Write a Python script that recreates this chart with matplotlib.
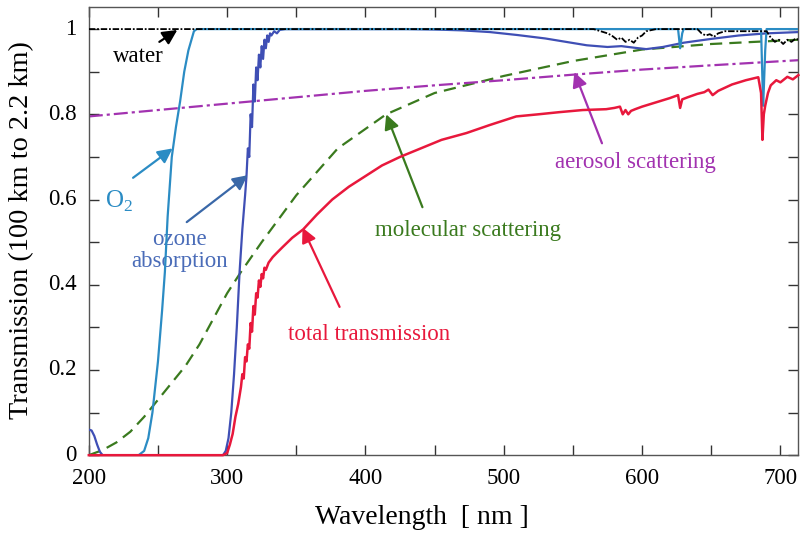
import numpy as np
import matplotlib
matplotlib.use('Agg')
import matplotlib.pyplot as plt
from matplotlib.ticker import MultipleLocator

plt.rcParams.update({
    'font.family': 'Liberation Serif',
    'mathtext.fontset': 'custom',
    'mathtext.rm': 'Liberation Serif',
    'font.size': 14,
})

# ---- data (wavelength nm, transmission) ----
aer_wl = [200, 250, 300, 350, 400, 450, 500, 550, 600, 650, 713]
aer_t = [0.795, 0.81, 0.825, 0.84, 0.855, 0.868, 0.88, 0.893, 0.905, 0.915, 0.927]

mol_wl = [200, 210, 220, 230, 240, 250, 260, 270, 280, 290, 300, 310, 325, 350,
          380, 415, 450, 500, 550, 600, 650, 713]
mol_t = [0.0, 0.012, 0.03, 0.055, 0.09, 0.13, 0.17, 0.21, 0.26, 0.32, 0.38, 0.43,
         0.5, 0.61, 0.72, 0.80, 0.85, 0.89, 0.925, 0.952, 0.965, 0.975]

o2_wl = [200, 236, 240, 243, 246, 250, 253, 255, 257, 260, 263, 266, 269, 272,
         276, 278, 626, 627.5, 629, 630, 686, 687, 687.5, 688, 689, 690, 713]
o2_t = [0, 0, 0.01, 0.04, 0.1, 0.22, 0.34, 0.43, 0.56, 0.70, 0.77, 0.83, 0.9,
        0.95, 0.995, 1.0, 1.0, 0.955, 0.99, 1.0, 1.0, 0.88, 0.82, 0.86, 0.95, 1.0, 1.0]

oz_wl = [200, 202, 204, 206, 208, 210, 295, 297, 299, 301, 303, 305, 307, 309,
         311, 313, 314, 315, 316, 317, 318, 319, 320, 321, 322, 323, 324, 325,
         326, 327, 328, 329, 330, 331, 332, 334, 336, 338, 342, 350, 430, 450,
         470, 490, 510, 530, 545, 560, 575, 585, 595, 603, 615, 630, 650, 670,
         690, 713]
oz_t = [0.06, 0.058, 0.045, 0.025, 0.008, 0.0, 0.0, 0.0, 0.01, 0.04, 0.1, 0.19,
        0.3, 0.43, 0.53, 0.61, 0.655, 0.72, 0.70, 0.80, 0.77, 0.87, 0.83, 0.91,
        0.88, 0.94, 0.91, 0.96, 0.93, 0.975, 0.955, 0.985, 0.97, 0.99, 0.985,
        0.995, 0.99, 0.998, 1.0, 1.0, 1.0, 0.999, 0.997, 0.993, 0.986, 0.978,
        0.970, 0.962, 0.958, 0.960, 0.956, 0.953, 0.958, 0.968, 0.977, 0.985,
        0.99, 0.993]

wat_wl = [200, 565, 570, 575, 578, 582, 585, 588, 591, 594, 597, 600, 603, 610,
          640, 643, 646, 649, 652, 655, 660, 690, 693, 696, 699, 702, 705, 708,
          711, 713]
wat_t = [1, 1, 0.995, 0.99, 0.985, 0.975, 0.98, 0.97, 0.975, 0.968, 0.98, 0.985,
         0.995, 1.0, 1.0, 0.99, 0.985, 0.988, 0.982, 0.99, 0.995, 0.995, 0.98,
         0.97, 0.975, 0.965, 0.975, 0.97, 0.978, 0.975]

tot_wl = [200, 297, 300, 302, 304, 306, 308, 310, 311, 312, 313, 314, 315, 316,
          317, 318, 319, 320, 321, 322, 323, 324, 325, 326, 327, 328, 330, 333,
          336, 340, 347, 355, 365, 376, 388, 400, 412, 425, 440, 455, 473, 490,
          509, 525, 540, 557, 574, 580, 584, 586, 588, 590, 592, 595, 600, 612,
          620, 626, 627.5, 629, 633, 640, 645, 648, 651, 655, 665, 675, 684, 686,
          687, 688, 689, 691, 693, 697, 700, 705, 709, 713]
tot_t = [0, 0, 0.005, 0.025, 0.05, 0.09, 0.12, 0.16, 0.19, 0.18, 0.23, 0.22,
         0.26, 0.25, 0.31, 0.29, 0.35, 0.33, 0.38, 0.37, 0.41, 0.395, 0.425,
         0.415, 0.44, 0.435, 0.452, 0.465, 0.475, 0.488, 0.51, 0.53, 0.565, 0.6,
         0.63, 0.655, 0.68, 0.70, 0.72, 0.74, 0.756, 0.775, 0.795, 0.80, 0.805,
         0.81, 0.812, 0.815, 0.818, 0.80, 0.81, 0.80, 0.808, 0.812, 0.818, 0.83,
         0.838, 0.845, 0.815, 0.835, 0.84, 0.848, 0.852, 0.858, 0.845, 0.855,
         0.87, 0.88, 0.887, 0.85, 0.74, 0.80, 0.82, 0.85, 0.868, 0.88, 0.875,
         0.888, 0.882, 0.892]

x_labels = [200, 300, 400, 500, 600, 700]
y_labels = [(0, '0'), (0.2, '0.2'), (0.4, '0.4'), (0.6, '0.6'), (0.8, '0.8'), (1.0, '1')]

C_O2 = '#2b8cc4'
C_OZ = '#3f4fb5'
C_MOL = '#3a7a1e'
C_AER = '#a232b0'
C_TOT = '#e8183c'

fig = plt.figure(figsize=(8, 5.33), dpi=100)
ax = fig.add_axes([0.111, 0.146, 0.887, 0.841])

ax.plot(mol_wl, mol_t, color=C_MOL, lw=1.6, dashes=(5.5, 3.2), zorder=2)
ax.plot(aer_wl, aer_t, color=C_AER, lw=1.6, dashes=(6.3, 1.8, 1.4, 1.8), zorder=2)
ax.plot(oz_wl, oz_t, color=C_OZ, lw=1.6, zorder=3)
ax.plot(o2_wl, o2_t, color=C_O2, lw=1.6, zorder=4)
ax.plot(wat_wl, wat_t, color='black', lw=1.3, dashes=(3.6, 1, 1, 1), zorder=5)
ax.plot(tot_wl, tot_t, color=C_TOT, lw=1.8, zorder=6, clip_on=False)

ax.set_xlim(200, 713)
ax.set_ylim(0, 1.052)
ax.xaxis.set_major_locator(MultipleLocator(50))
ax.yaxis.set_major_locator(MultipleLocator(0.1))
ax.set_xticklabels([])
ax.set_yticklabels([])
for v in x_labels:
    ax.text(v, -0.03, str(v), ha='center', va='top', fontsize=16.5)
for v, s in y_labels:
    ax.text(191, v, s, ha='right', va='center', fontsize=16.5)
ax.tick_params(direction='in', length=7, width=1, top=True, right=True, color='#333333')
for sp in ax.spines.values():
    sp.set_color('#555555')
    sp.set_linewidth(1.0)

fig.text(422 / 800, 1 - 517 / 533, 'Wavelength  [ nm ]', ha='center', va='center',
         fontsize=20)
fig.text(22 / 800, 1 - 230 / 533, 'Transmission (100 km to 2.2 km)', ha='center',
         va='center', rotation=90, fontsize=20.3)

arrow = dict(arrowstyle='-|>', mutation_scale=22, lw=1.6, shrinkA=0, shrinkB=0)
fs = 16.5

ax.annotate('', xy=(264, 0.998), xytext=(251, 0.97),
            arrowprops=dict(arrow, color='black'))
ax.text(236, 0.935, 'water', ha='center', va='center', fontsize=fs, color='black')

ax.annotate('', xy=(260.6, 0.72), xytext=(232, 0.651),
            arrowprops=dict(arrow, color=C_O2))
ax.text(222, 0.595, 'O$_2$', ha='center', va='center', fontsize=18, color=C_O2)

ax.annotate('', xy=(314.8, 0.657), xytext=(270.8, 0.547),
            arrowprops=dict(arrow, color='#3a68a8'))
ax.text(265.5, 0.48, 'ozone\nabsorption', ha='center', va='center', fontsize=fs,
        color='#4a6cb8', linespacing=1.05)

ax.annotate('', xy=(415, 0.80), xytext=(441.2, 0.582),
            arrowprops=dict(arrow, color=C_MOL))
ax.text(474.5, 0.528, 'molecular scattering', ha='center', va='center', fontsize=fs,
        color=C_MOL)

ax.annotate('', xy=(551, 0.899), xytext=(571, 0.732),
            arrowprops=dict(arrow, color=C_AER))
ax.text(595.5, 0.686, 'aerosol scattering', ha='center', va='center', fontsize=fs,
        color=C_AER)

ax.annotate('', xy=(354.5, 0.534), xytext=(381.3, 0.348),
            arrowprops=dict(arrow, color=C_TOT))
ax.text(402.8, 0.284, 'total transmission', ha='center', va='center', fontsize=fs,
        color=C_TOT)

fig.savefig('out.png', dpi=100)
